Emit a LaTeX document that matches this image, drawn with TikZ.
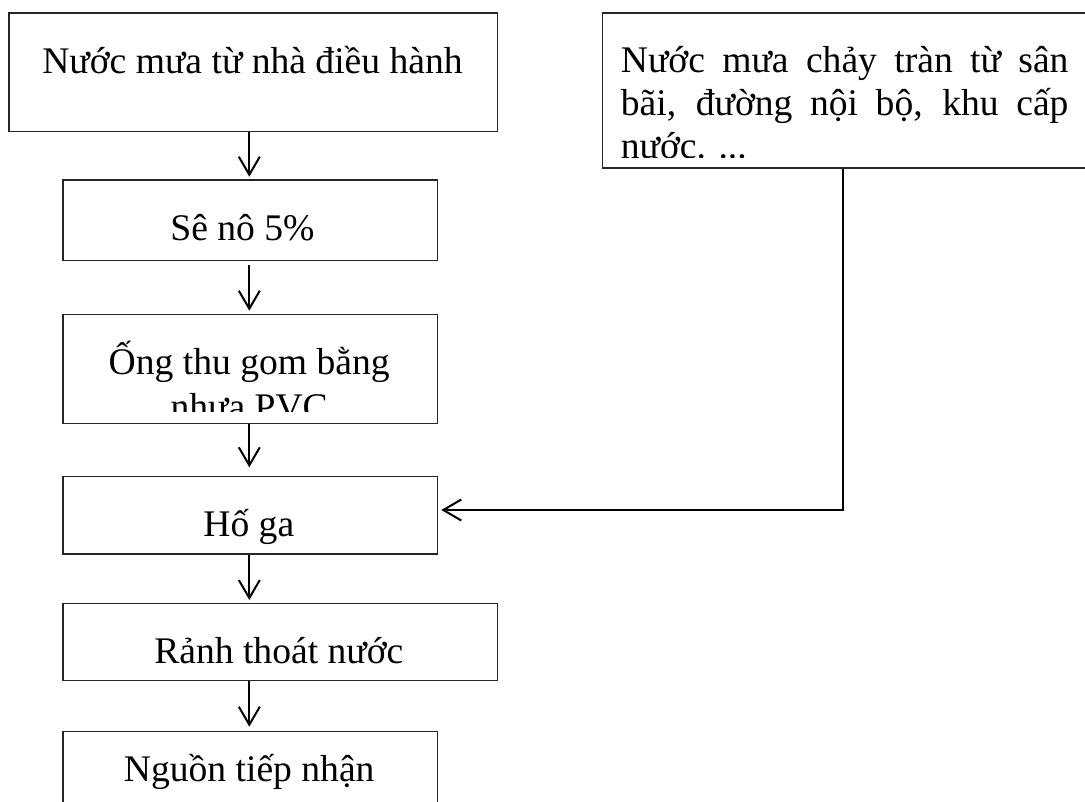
\documentclass[tikz,border=0pt]{standalone}
\usepackage{fontspec}
\setmainfont{Liberation Serif}
\usetikzlibrary{arrows.meta,calc}
\begin{document}
\begin{tikzpicture}[x=1pt,y=-1pt,
 box/.style={draw=black!85,line width=1.3pt,rectangle,inner sep=0pt,anchor=north west},
 txt/.style={inner sep=0pt,anchor=base,font=\fontsize{37.6}{44}\selectfont},
 arr/.style={line width=2pt,-{Straight Barb[length=18pt,width=21pt,line width=2pt]}}]
\clip (0,0) rectangle (1085,802);
\fill[white] (0,0) rectangle (1085,802);
% boxes
\node[box,minimum width=488.4pt,minimum height=118.2pt] (b1) at (8.3,12.5) {};
\node[box,minimum width=500pt,minimum height=155pt] (b2) at (601.7,12.5) {};
\node[box,minimum width=374.4pt,minimum height=80.7pt] (b3) at (62.3,179.3) {};
\node[box,minimum width=374.4pt,minimum height=108.7pt] (b4) at (62.3,314) {};
\node[box,minimum width=374.4pt,minimum height=77.6pt] (b5) at (62.3,475.7) {};
\node[box,minimum width=434.4pt,minimum height=77.3pt] (b6) at (62.3,602.7) {};
\node[box,minimum width=374.4pt,minimum height=110pt] (b7) at (62.3,730.7) {};
% texts
\node[txt] (t1) at (252.5,73.5) {Nước mưa từ nhà điều hành};
\node[txt,anchor=base west] (t2a) at (620.7,72.7) {\makebox[447.6pt][s]{Nước mưa chảy tràn từ sân}};
\node[txt,anchor=base west] (t2b) at (620.7,115.3) {\makebox[447.6pt][s]{bãi, đường nội bộ, khu cấp}};
\begin{scope}
\clip (600,120) rectangle (1085,157.5);
\node[txt,anchor=base west] (t2c) at (620.7,159) {nước. ...};
\end{scope}
\node[txt] (t3) at (242.5,240.7) {Sê nô 5\%};
\node[txt] (t4a) at (249.2,374) {Ống thu gom bằng};
\begin{scope}
\clip (63,380) rectangle (436,412);
\node[txt] (t4b) at (249.2,419.5) {nhựa PVC};
\end{scope}
\node[txt] (t5) at (248.8,536) {Hố ga};
\node[txt] (t6) at (278.8,663.3) {Rảnh thoát nước};
\node[txt] (t7) at (249.2,781.5) {Nguồn tiếp nhận};
% connectors
\coordinate (ax) at (249.3,0);
\coordinate (cx) at (843.3,510);
\draw[arr] (b1.south -| ax) -- ($(b3.north -| ax)+(0,-2.6)$);
\draw[arr] ($(b3.south -| ax)+(0,4)$) -- ($(b4.north -| ax)+(0,-3.3)$);
\draw[arr] (b4.south -| ax) -- ($(b5.north -| ax)+(0,-8.4)$);
\draw[arr] (b5.south -| ax) -- ($(b6.north -| ax)+(0,-2.7)$);
\draw[arr] (b6.south -| ax) -- ($(b7.north -| ax)+(0,-4)$);
\draw[arr] (b2.south -| cx) -- (cx) -- ($(b5.east |- cx)+(3.3,0)$);
\end{tikzpicture}
\end{document}
